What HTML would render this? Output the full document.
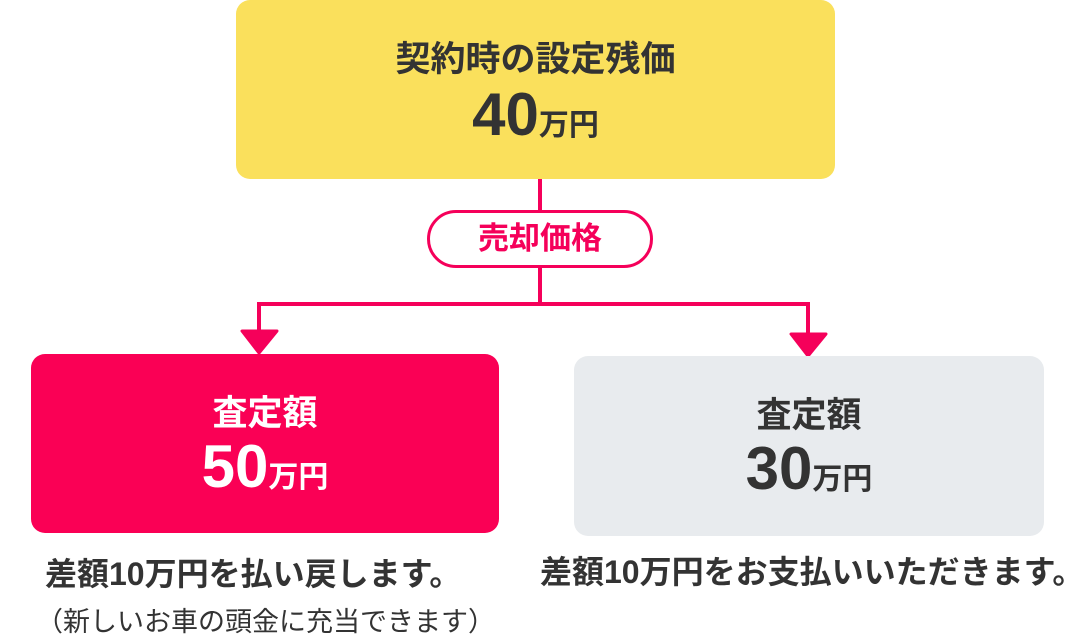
<!DOCTYPE html>
<html><head><meta charset="utf-8"><style>
body{margin:0;width:1073px;height:636px;background:#fff;position:relative;overflow:hidden;font-family:"Liberation Sans","Noto Sans CJK JP",sans-serif;color:#333}
.a{position:absolute}
.box{position:absolute;border-radius:14px;text-align:center;font-weight:bold}
.t{font-size:35px;line-height:40px}
.n{font-size:60px;line-height:66px}
.n span{font-size:30px}
.ln{position:absolute;background:#F5005A}
</style></head><body>
<div class="box" style="left:236px;top:0;width:599px;height:179px;background:#FAE05C">
<div class="t" style="margin-top:40px">契約時の設定残価</div>
<div class="n" style="margin-top:2px">40<span>万円</span></div></div>
<div class="ln" style="left:538px;top:179px;width:4px;height:32px"></div>
<div class="a" style="left:427px;top:210px;width:220px;height:52px;border:3px solid #F5005A;border-radius:30px;text-align:center;font-size:31px;font-weight:bold;color:#F5005A;line-height:52px">売却価格</div>
<div class="ln" style="left:538px;top:268px;width:4px;height:37px"></div>
<div class="ln" style="left:257px;top:302px;width:553px;height:4px"></div>
<div class="ln" style="left:257px;top:302px;width:4px;height:32px"></div>
<div class="ln" style="left:806px;top:302px;width:4px;height:34px"></div>
<svg class="a" style="left:0;top:0" width="1073" height="636"><polygon points="242,331 277,331 259,353" fill="#F5005A" stroke="#F5005A" stroke-width="3" stroke-linejoin="round"/><polygon points="791,334 826,334 808,356" fill="#F5005A" stroke="#F5005A" stroke-width="3" stroke-linejoin="round"/></svg>
<div class="box" style="left:31px;top:354px;width:468px;height:179px;background:#FA0055;color:#fff">
<div class="t" style="margin-top:40px">査定額</div>
<div class="n" style="margin-top:0px">50<span>万円</span></div></div>
<div class="box" style="left:574px;top:356px;width:470px;height:180px;background:#E8EBEE">
<div class="t" style="margin-top:40px">査定額</div>
<div class="n" style="margin-top:0px">30<span>万円</span></div></div>
<div class="a" style="left:45px;top:549px;font-size:32px;font-weight:bold;white-space:nowrap">差額10万円を払い戻します。</div>
<div class="a" style="left:36px;top:600px;font-size:27px;white-space:nowrap">（新しいお車の頭金に充当できます）</div>
<div class="a" style="left:540px;top:547px;font-size:32px;font-weight:bold;white-space:nowrap">差額10万円をお支払いいただきます。</div>
</body></html>
